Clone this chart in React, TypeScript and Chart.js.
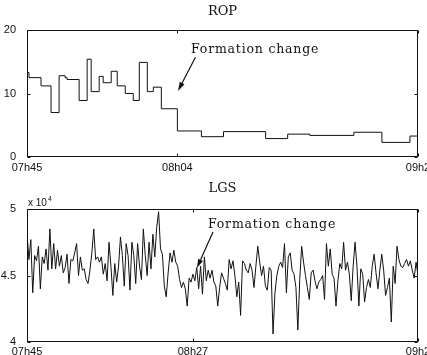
import React, { useEffect, useRef } from 'react';
import { Chart, registerables } from 'chart.js';

Chart.register(...registerables);

// ---------- DATA ----------
// ROP: step series (sample index where each plateau starts, value)
const ropTimes = [0, 1, 7, 12, 16, 19, 20, 26, 30, 32, 36, 38, 42, 45, 49, 53, 56, 60, 63, 67, 75, 87, 98, 119, 130, 141, 163, 177, 191, 195];
const ropValues = [13.3, 12.5, 11.2, 7.0, 12.8, 12.5, 12.2, 8.9, 15.4, 10.3, 12.7, 11.7, 13.5, 11.2, 10.0, 8.9, 14.9, 10.3, 11.0, 7.6, 4.1, 3.2, 4.0, 2.9, 3.6, 3.4, 3.9, 2.3, 3.3, 3.3];
const ropTickPos = [0, 75, 195];
const ropTickLabels = ['07h45', '08h04', '09h2'];

// LGS: values in units of 10^4
const lgsValues = [
  4.82, 4.62, 4.77, 4.37, 4.65, 4.61, 4.72, 4.40, 4.64, 4.59,
  4.70, 4.54, 4.85, 4.55, 4.74, 4.55, 4.69, 4.57, 4.65, 4.52,
  4.56, 4.66, 4.44, 4.62, 4.61, 4.67, 4.74, 4.50, 4.64, 4.54,
  4.55, 4.47, 4.44, 4.54, 4.67, 4.85, 4.62, 4.64, 4.60, 4.64,
  4.51, 4.59, 4.46, 4.75, 4.57, 4.35, 4.59, 4.45, 4.57, 4.79,
  4.65, 4.42, 4.74, 4.65, 4.39, 4.75, 4.65, 4.44, 4.74, 4.57,
  4.47, 4.85, 4.65, 4.50, 4.75, 4.55, 4.81, 4.64, 4.86, 4.98,
  4.70, 4.66, 4.42, 4.34, 4.52, 4.67, 4.60, 4.69, 4.60, 4.57,
  4.47, 4.41, 4.45, 4.40, 4.27, 4.48, 4.45, 4.51, 4.46, 4.56,
  4.40, 4.57, 4.36, 4.64, 4.46, 4.54, 4.48, 4.54, 4.45,
  4.42, 4.27, 4.41, 4.52, 4.48, 4.44, 4.39, 4.62, 4.55, 4.61,
  4.50, 4.34, 4.45, 4.20, 4.61, 4.59, 4.54, 4.52, 4.59, 4.54,
  4.41, 4.57, 4.72, 4.60, 4.50, 4.57, 4.42, 4.39, 4.56, 4.54,
  4.06, 4.37, 4.50, 4.57, 4.60, 4.56, 4.74, 4.37, 4.64, 4.67,
  4.54, 4.51, 4.41, 4.09, 4.47, 4.72, 4.60, 4.50, 4.41, 4.32,
  4.52, 4.54, 4.46, 4.40, 4.45, 4.47, 4.50, 4.32, 4.74, 4.57,
  4.70, 4.51, 4.48, 4.27, 4.46, 4.59, 4.55, 4.75, 4.54, 4.60,
  4.51, 4.31, 4.57, 4.75, 4.57, 4.27, 4.55, 4.51, 4.30, 4.41,
  4.47, 4.41, 4.57, 4.66, 4.52, 4.40, 4.54, 4.66, 4.54, 4.35,
  4.41, 4.48, 4.15, 4.57, 4.44, 4.72, 4.62, 4.57, 4.56, 4.59,
  4.62, 4.57, 4.61, 4.54, 4.48, 4.60, 4.50,
];
const lgsTickPos = [0, 87, lgsValues.length - 1];
const lgsTickLabels = ['07h45', '08h27', '09h2'];

// Annotations (data coordinates)
const ropNote = { text: 'Formation change', textX: 81.8, textY: 16.4, fromX: 84.0, fromY: 15.7, toX: 75.3, toY: 10.4 };
const lgsNote = { text: 'Formation change', textX: 94.9, textY: 4.857, fromX: 97.5, fromY: 4.827, toX: 89.1, toY: 4.556 };

const INK = '#111111';
const TICK_FONT = { family: 'Liberation Sans, Arial, sans-serif', size: 11 };
const TITLE_FONT = { family: 'DejaVu Serif, serif', size: 13, weight: 'normal' as const };
const NOTE_FONT = '12.5px "DejaVu Serif", serif';

// ---------- PLUGINS ----------
const framePlugin = {
  id: 'frameTicks',
  afterDatasetsDraw(chart: any) {
    const { ctx, chartArea: a, scales } = chart;
    const L = Math.round(a.left) + 0.5;
    const R = Math.round(a.right) - 0.5;
    const T = Math.round(a.top) + 0.5;
    const B = Math.round(a.bottom) - 0.5;
    const len = 3;
    ctx.save();
    ctx.strokeStyle = INK;
    ctx.lineWidth = 1;
    ctx.strokeRect(L, T, R - L, B - T);
    ctx.beginPath();
    for (const t of scales.x.ticks) {
      const px = Math.round(scales.x.getPixelForValue(t.value)) + 0.5;
      ctx.moveTo(px, B); ctx.lineTo(px, B - len);
      ctx.moveTo(px, T); ctx.lineTo(px, T + len);
    }
    for (const t of scales.y.ticks) {
      const py = Math.round(scales.y.getPixelForValue(t.value)) + 0.5;
      ctx.moveTo(L, py); ctx.lineTo(L + len, py);
      ctx.moveTo(R, py); ctx.lineTo(R - len, py);
    }
    ctx.stroke();
    ctx.restore();
  },
};

function makeNotePlugin(note: typeof ropNote) {
  return {
    id: 'formationNote',
    afterDatasetsDraw(chart: any) {
      const { ctx, scales: { x, y } } = chart;
      const tx = x.getPixelForValue(note.textX);
      const ty = y.getPixelForValue(note.textY);
      ctx.save();
      ctx.fillStyle = INK;
      ctx.strokeStyle = INK;
      ctx.font = NOTE_FONT;
      try { (ctx as any).letterSpacing = '0.8px'; } catch (e) { /* ignore */ }
      ctx.textAlign = 'left';
      ctx.textBaseline = 'alphabetic';
      ctx.fillText(note.text, tx, ty);
      try { (ctx as any).letterSpacing = '0px'; } catch (e) { /* ignore */ }
      const x0 = x.getPixelForValue(note.fromX);
      const y0 = y.getPixelForValue(note.fromY);
      const x1 = x.getPixelForValue(note.toX);
      const y1 = y.getPixelForValue(note.toY);
      const ang = Math.atan2(y1 - y0, x1 - x0);
      const head = 9;
      const half = 2.6;
      const bx = x1 - head * Math.cos(ang);
      const by = y1 - head * Math.sin(ang);
      ctx.lineWidth = 1.2;
      ctx.beginPath();
      ctx.moveTo(x0, y0);
      ctx.lineTo(bx, by);
      ctx.stroke();
      ctx.beginPath();
      ctx.moveTo(x1, y1);
      ctx.lineTo(bx + half * Math.sin(ang), by - half * Math.cos(ang));
      ctx.lineTo(bx - half * Math.sin(ang), by + half * Math.cos(ang));
      ctx.closePath();
      ctx.fill();
      ctx.restore();
    },
  };
}

const exponentPlugin = {
  id: 'exponentLabel',
  afterDraw(chart: any) {
    const { ctx, chartArea: a } = chart;
    ctx.save();
    ctx.fillStyle = INK;
    ctx.textAlign = 'left';
    ctx.textBaseline = 'alphabetic';
    ctx.font = '10px "Liberation Sans", Arial, sans-serif';
    ctx.fillText('x 10', a.left + 1, a.top - 3.5);
    const w = ctx.measureText('x 10').width;
    ctx.font = '7px "Liberation Sans", Arial, sans-serif';
    ctx.fillText('4', a.left + 2 + w, a.top - 8);
    ctx.restore();
  },
};

// ---------- CONFIG ----------
function buildConfig(opts: {
  data: { x: number; y: number }[];
  stepped: any;
  title: string;
  xMax: number;
  tickPos: number[];
  tickLabels: string[];
  yMin: number;
  yMax: number;
  yStep: number;
  topH: number;
  bottomH: number;
  titlePadTop: number;
  xTickPad: number;
  plugins: any[];
}) {
  return {
    type: 'line' as const,
    data: {
      datasets: [
        {
          data: opts.data,
          borderColor: INK,
          borderWidth: 1,
          pointRadius: 0,
          tension: 0,
          stepped: opts.stepped,
          fill: false,
        },
      ],
    },
    options: {
      animation: false as const,
      responsive: false,
      events: [],
      layout: { padding: { left: 0, right: 9, top: 0, bottom: 0 }, autoPadding: false },
      plugins: { legend: { display: false }, tooltip: { enabled: false }, title: { display: false } },
      scales: {
        x: {
          type: 'linear' as const,
          position: 'bottom' as const,
          min: 0,
          max: opts.xMax,
          grid: { display: false },
          border: { display: false },
          afterBuildTicks: (scale: any) => {
            scale.ticks = opts.tickPos.map((v) => ({ value: v }));
          },
          afterFit: (scale: any) => {
            scale.height = opts.bottomH;
          },
          ticks: {
            autoSkip: false,
            maxRotation: 0,
            minRotation: 0,
            padding: opts.xTickPad,
            color: INK,
            font: TICK_FONT,
            callback: (v: any) => {
              const i = opts.tickPos.indexOf(Number(v));
              return i >= 0 ? opts.tickLabels[i] : '';
            },
          },
        },
        xTop: {
          type: 'linear' as const,
          position: 'top' as const,
          axis: 'x' as const,
          min: 0,
          max: opts.xMax,
          grid: { display: false },
          border: { display: false },
          ticks: { display: false },
          title: {
            display: true,
            text: opts.title,
            color: INK,
            font: TITLE_FONT,
            padding: { top: opts.titlePadTop, bottom: 0 },
          },
          afterFit: (scale: any) => {
            scale.height = opts.topH;
          },
        },
        y: {
          type: 'linear' as const,
          position: 'left' as const,
          min: opts.yMin,
          max: opts.yMax,
          grid: { display: false },
          border: { display: false },
          afterFit: (scale: any) => {
            scale.width = 27;
          },
          ticks: {
            stepSize: opts.yStep,
            padding: 3,
            color: INK,
            font: TICK_FONT,
            callback: (v: any) => String(Number(v)),
          },
        },
      },
    },
    plugins: opts.plugins,
  };
}

export default function App() {
  const topRef = useRef<HTMLCanvasElement | null>(null);
  const botRef = useRef<HTMLCanvasElement | null>(null);

  useEffect(() => {
    const ropData = ropTimes.map((t, i) => ({ x: t, y: ropValues[i] }));
    const lgsData = lgsValues.map((v, i) => ({ x: i, y: v }));

    const top = new Chart(
      topRef.current as HTMLCanvasElement,
      buildConfig({
        data: ropData,
        stepped: 'before',
        title: 'ROP',
        xMax: 195,
        tickPos: ropTickPos,
        tickLabels: ropTickLabels,
        yMin: 0,
        yMax: 20,
        yStep: 10,
        topH: 30,
        bottomH: 21,
        titlePadTop: 4,
        xTickPad: -4,
        plugins: [framePlugin, makeNotePlugin(ropNote)],
      }) as any
    );
    const bot = new Chart(
      botRef.current as HTMLCanvasElement,
      buildConfig({
        data: lgsData,
        stepped: false,
        title: 'LGS',
        xMax: lgsValues.length - 1,
        tickPos: lgsTickPos,
        tickLabels: lgsTickLabels,
        yMin: 4,
        yMax: 5,
        yStep: 0.5,
        topH: 31,
        bottomH: 13,
        titlePadTop: 3,
        xTickPad: -5,
        plugins: [framePlugin, makeNotePlugin(lgsNote), exponentPlugin],
      }) as any
    );
    return () => {
      top.destroy();
      bot.destroy();
    };
  }, []);

  return (
    <div style={{ position: 'fixed', left: 0, top: 0, width: 427, height: 355, background: '#fff' }}>
      <canvas ref={topRef} width={427} height={178} style={{ display: 'block', width: 427, height: 178 }} />
      <canvas ref={botRef} width={427} height={177} style={{ display: 'block', width: 427, height: 177 }} />
    </div>
  );
}
